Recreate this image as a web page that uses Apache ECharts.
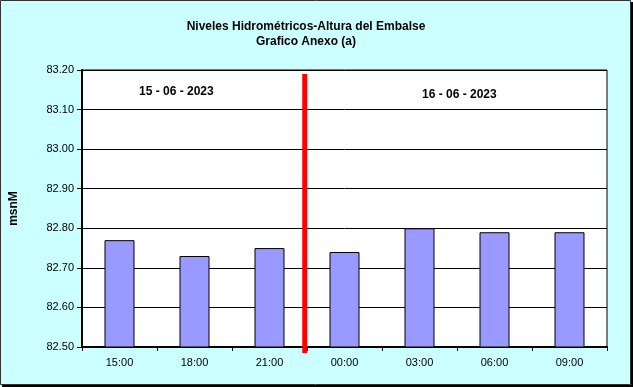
<!DOCTYPE html>
<html><head><meta charset="utf-8">
<script src="https://cdn.jsdelivr.net/npm/echarts@6/dist/echarts.min.js"></script>
<style>html,body{margin:0;padding:0;background:#CCFFFF;}#c{width:633px;height:387px;}</style>
</head><body><div id="c"></div>
<script>
const categories = ['15:00','18:00','21:00','00:00','03:00','06:00','09:00'];
const levels = [82.77, 82.73, 82.75, 82.74, 82.80, 82.79, 82.79];
const dividerX = [2.97, 2.97];
const dividerY = [83.19, 82.485];
const dayLabels = ['15 - 06 - 2023', '16 - 06 - 2023'];

const chart = echarts.init(document.getElementById('c'), null, {renderer: 'canvas'});
const font = 'Liberation Sans, Arial, sans-serif';
chart.setOption({
  backgroundColor: '#CCFFFF',
  animation: false,
  title: {
    text: 'Niveles Hidrométricos-Altura del Embalse\nGrafico Anexo (a)',
    left: 301, top: 14, textAlign: 'center',
    textStyle: {fontFamily: font, fontSize: 12, fontWeight: 'bold', color: '#000', lineHeight: 15}
  },
  grid: {left: 82, right: 26, top: 70, bottom: 40, show: true, borderColor: '#000', borderWidth: 1, backgroundColor: '#fff'},
  xAxis: [{
    type: 'category', data: categories,
    axisLine: {lineStyle: {color: '#000', width: 2}},
    axisTick: {show: true, length: 4, lineStyle: {color: '#000'}},
    axisLabel: {fontFamily: font, fontSize: 11, color: '#000', margin: 10},
    splitLine: {show: false}
  }, {
    type: 'value', min: 0, max: 7, show: false
  }],
  yAxis: {
    type: 'value', min: 82.5, max: 83.2, interval: 0.1,
    name: 'msnM', nameLocation: 'middle', nameGap: 62, nameRotate: 90,
    nameTextStyle: {fontFamily: font, fontSize: 12, fontWeight: 'bold', color: '#000'},
    axisLine: {show: true, lineStyle: {color: '#000', width: 2}},
    axisTick: {show: true, length: 5, lineStyle: {color: '#000'}},
    axisLabel: {fontFamily: font, fontSize: 11, color: '#000', formatter: v => v.toFixed(2), margin: 8},
    splitLine: {show: true, lineStyle: {color: '#000', width: 1}}
  },
  series: [{
    type: 'bar', data: levels, barWidth: '40%',
    itemStyle: {color: '#9999FF', borderColor: '#000', borderWidth: 1}
  }, {
    type: 'line', xAxisIndex: 1, clip: false, symbol: 'none',
    data: dividerX.map((x, i) => [x, dividerY[i]]),
    lineStyle: {color: '#FF0000', width: 5}, z: 5
  }],
  graphic: [
    {type: 'text', left: 139, top: 86, style: {text: dayLabels[0], font: 'bold 12px ' + font, fill: '#000'}},
    {type: 'text', left: 422, top: 89, style: {text: dayLabels[1], font: 'bold 12px ' + font, fill: '#000'}},
    {type: 'rect', shape: {x: 0.5, y: 0.5, width: 630, height: 384}, style: {fill: 'none', stroke: '#333', lineWidth: 1}, silent: true},
    {type: 'rect', shape: {x: 631, y: 2, width: 2, height: 385}, style: {fill: '#000'}, silent: true},
    {type: 'rect', shape: {x: 2, y: 385, width: 631, height: 2}, style: {fill: '#000'}, silent: true}
  ]
});
</script></body></html>
